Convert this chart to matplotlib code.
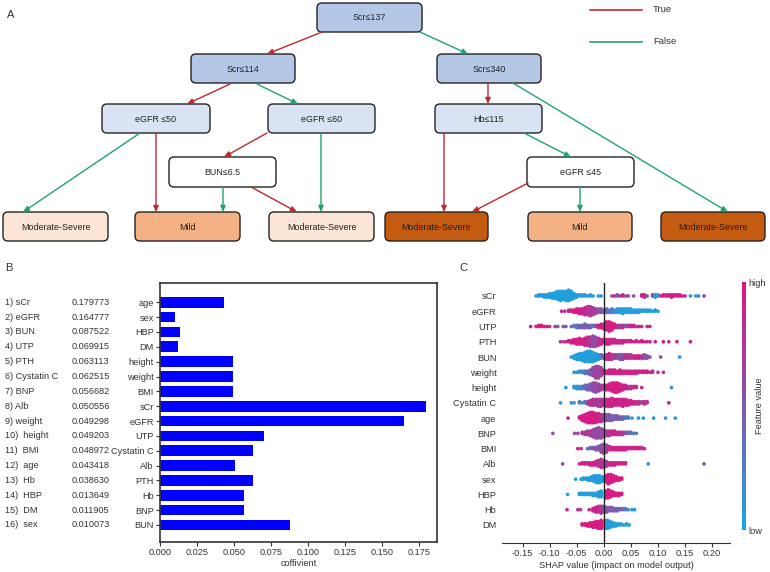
import numpy as np
import matplotlib
matplotlib.use('Agg')
import matplotlib.pyplot as plt
from matplotlib.patches import FancyBboxPatch
from matplotlib.colors import LinearSegmentedColormap
from matplotlib.cm import ScalarMappable
from matplotlib.transforms import blended_transform_factory

plt.rcParams['font.family'] = ['Liberation Sans Narrow', 'Liberation Sans', 'DejaVu Sans']

# ---- panel A: decision tree ----
split_labels = ['Scr≤137', 'Scr≤114', 'Scr≤340', 'eGFR ≤50', 'eGFR ≤60', 'Hb≤115', 'BUN≤6.5', 'eGFR ≤45']
leaf_labels = ['Moderate-Severe', 'Mild', 'Moderate-Severe', 'Moderate-Severe', 'Mild', 'Moderate-Severe']

# ---- panel B: feature importance ----
rank_names = ['sCr', 'eGFR', 'BUN', 'UTP', 'PTH', 'Cystatin C', 'BNP', 'Alb', 'weight',
              'height', 'BMI', 'age', 'Hb', 'HBP', 'DM', 'sex']
rank_values = ['0.179773', '0.164777', '0.087522', '0.069915', '0.063113', '0.062515',
               '0.056682', '0.050556', '0.049298', '0.049203', '0.048972', '0.043418',
               '0.038630', '0.013649', '0.011905', '0.010073']
bar_labels = ['age', 'sex', 'HBP', 'DM', 'height', 'weight', 'BMI', 'sCr', 'eGFR', 'UTP',
              'Cystatin C', 'Alb', 'PTH', 'Hb', 'BNP', 'BUN']
bar_values = [0.0434, 0.0101, 0.0136, 0.0119, 0.0492, 0.0493, 0.0490, 0.1798, 0.1648, 0.0699,
              0.0625, 0.0506, 0.0631, 0.0567, 0.0567, 0.0875]

# ---- panel C: SHAP beeswarm, (shap value, count in column, feature value) ----
shap_features = ['sCr', 'eGFR', 'UTP', 'PTH', 'BUN', 'weight', 'height', 'Cystatin C',
                 'age', 'BNP', 'BMI', 'Alb', 'sex', 'HBP', 'Hb', 'DM']
shap_sCr = [(-0.125, 1, .05), (-0.12, 2, .05), (-0.115, 2, .05), (-0.11, 3, .05), (-0.105, 3, .05),
            (-0.10, 4, .05), (-0.095, 5, .05), (-0.09, 6, .05), (-0.085, 8, .05), (-0.08, 9, .05),
            (-0.075, 8, .05), (-0.07, 9, .05), (-0.065, 10, .05), (-0.06, 8, .05), (-0.055, 5, .05),
            (-0.05, 3, .05), (-0.045, 2, .05), (-0.04, 2, .05), (-0.035, 2, .05), (-0.03, 1, .05),
            (-0.025, 2, .05), (-0.02, 1, .05), (-0.01, 1, .05), (-0.005, 1, .1),
            (0.015, 1, .6), (0.02, 1, .9), (0.025, 2, .6), (0.03, 1, .7), (0.035, 2, .9),
            (0.04, 1, .6), (0.045, 1, .7), (0.055, 1, .6), (0.07, 2, .9), (0.075, 3, .9),
            (0.08, 1, .6), (0.09, 2, .5), (0.095, 3, .1), (0.10, 2, .1), (0.105, 1, .9),
            (0.11, 2, .95), (0.115, 2, .9), (0.12, 2, .95), (0.125, 3, .9), (0.13, 2, .95),
            (0.135, 2, .9), (0.14, 2, .9), (0.145, 1, .95), (0.15, 1, .8), (0.16, 1, .1),
            (0.17, 1, .1), (0.175, 1, .15), (0.185, 1, .6)]
shap_eGFR = [(-0.078, 1, .8), (-0.072, 1, .8), (-0.065, 2, .85), (-0.06, 2, .9), (-0.055, 3, .95),
             (-0.05, 4, .95), (-0.045, 5, .95), (-0.04, 5, .9), (-0.035, 7, .85), (-0.03, 8, .75),
             (-0.025, 9, .75), (-0.02, 7, .7), (-0.015, 5, .7), (-0.01, 4, .6), (-0.005, 4, .5),
             (0.0, 3, .45), (0.005, 4, .4), (0.01, 3, .35), (0.015, 4, .3), (0.02, 3, .2),
             (0.025, 4, .1), (0.03, 4, .05), (0.035, 5, .05), (0.04, 4, .05), (0.045, 4, .05),
             (0.05, 4, .05), (0.055, 3, .05), (0.06, 3, .05), (0.065, 3, .05), (0.07, 2, .05),
             (0.075, 2, .05), (0.08, 2, .05), (0.085, 2, .05), (0.09, 1, .05), (0.095, 2, .05),
             (0.10, 1, .05)]
shap_UTP = [(-0.135, 1, .9), (-0.125, 1, .9), (-0.12, 2, .95), (-0.115, 2, .95), (-0.11, 1, .9),
            (-0.105, 1, .9), (-0.10, 1, .9), (-0.09, 1, .6), (-0.085, 1, .6), (-0.075, 1, .5),
            (-0.07, 1, .5), (-0.06, 1, .4), (-0.055, 2, .3), (-0.05, 3, .3), (-0.045, 3, .45),
            (-0.04, 3, .4), (-0.035, 4, .5), (-0.03, 3, .55), (-0.025, 3, .4), (-0.02, 2, .3),
            (-0.015, 2, .6), (-0.01, 3, .9), (-0.005, 4, .95), (0.0, 5, .9), (0.005, 8, .95),
            (0.01, 9, .95), (0.015, 7, .95), (0.02, 4, .9), (0.025, 3, .8), (0.03, 3, .7),
            (0.035, 3, .8), (0.04, 2, .6), (0.045, 2, .8), (0.05, 2, .9), (0.055, 2, .9),
            (0.06, 1, .9), (0.065, 1, .9), (0.07, 1, .9), (0.08, 1, .8), (0.085, 1, .9)]
shap_PTH = [(-0.08, 1, .85), (-0.075, 1, .6), (-0.07, 1, .9), (-0.065, 2, .9), (-0.06, 3, .9),
            (-0.055, 4, .95), (-0.05, 5, .95), (-0.045, 6, .9), (-0.04, 5, .95), (-0.035, 7, .9),
            (-0.03, 8, .85), (-0.025, 9, .7), (-0.02, 10, .6), (-0.015, 9, .6), (-0.01, 7, .75),
            (-0.005, 5, .85), (0.0, 4, .9), (0.005, 5, .9), (0.01, 5, .9), (0.015, 4, .85),
            (0.02, 4, .9), (0.025, 3, .9), (0.03, 3, .85), (0.035, 3, .9), (0.04, 2, .9),
            (0.045, 2, .85), (0.05, 2, .9), (0.055, 1, .9), (0.06, 2, .9), (0.065, 1, .8),
            (0.07, 2, .9), (0.075, 1, .9), (0.08, 1, .85), (0.085, 1, .9), (0.095, 1, .9),
            (0.11, 1, .9), (0.12, 1, .85), (0.135, 1, .9), (0.16, 1, .9)]
shap_BUN = [(-0.06, 1, .1), (-0.055, 3, .05), (-0.05, 5, .05), (-0.045, 6, .05), (-0.04, 7, .05),
            (-0.035, 9, .05), (-0.03, 10, .05), (-0.025, 10, .05), (-0.02, 9, .05), (-0.015, 7, .05),
            (-0.01, 5, .1), (-0.005, 4, .3), (0.0, 3, .5), (0.005, 5, .8), (0.01, 6, .9),
            (0.015, 5, .7), (0.02, 4, .8), (0.025, 4, .6), (0.03, 5, .55), (0.035, 5, .6),
            (0.04, 4, .8), (0.045, 4, .75), (0.05, 4, .7), (0.055, 3, .85), (0.06, 3, .9),
            (0.065, 3, .9), (0.07, 3, .8), (0.075, 4, .6), (0.08, 3, .5), (0.085, 1, .6),
            (0.105, 1, .6), (0.14, 1, .1)]
shap_weight = [(-0.055, 1, .1), (-0.05, 1, .1), (-0.045, 2, .1), (-0.04, 2, .2), (-0.035, 3, .3),
               (-0.03, 3, .4), (-0.025, 5, .5), (-0.02, 8, .6), (-0.015, 11, .65), (-0.01, 11, .65),
               (-0.005, 8, .7), (0.0, 4, .8), (0.005, 3, .9), (0.01, 4, .9), (0.015, 4, .9),
               (0.02, 4, .9), (0.025, 3, .9), (0.03, 4, .9), (0.035, 3, .9), (0.04, 3, .9),
               (0.045, 3, .9), (0.05, 3, .9), (0.055, 3, .9), (0.06, 3, .9), (0.065, 2, .9),
               (0.07, 2, .9), (0.075, 2, .9), (0.08, 2, .9), (0.085, 1, .9), (0.09, 2, .85),
               (0.10, 1, .8), (0.11, 1, .8)]
shap_height = [(-0.07, 1, .1), (-0.055, 2, .1), (-0.05, 3, .1), (-0.045, 3, .15), (-0.04, 3, .2),
               (-0.035, 4, .4), (-0.03, 5, .45), (-0.025, 6, .5), (-0.02, 8, .6), (-0.015, 9, .6),
               (-0.01, 7, .65), (-0.005, 5, .7), (0.0, 4, .8), (0.005, 5, .9), (0.01, 6, .9),
               (0.015, 8, .95), (0.02, 9, .95), (0.025, 9, .95), (0.03, 7, .9), (0.035, 5, .9),
               (0.04, 4, .9), (0.045, 3, .8), (0.05, 3, .7), (0.055, 2, .85), (0.06, 2, .8),
               (0.07, 1, .9), (0.125, 1, .1)]
shap_cysc = [(-0.08, 1, .1), (-0.06, 1, .1), (-0.055, 1, .15), (-0.045, 2, .2), (-0.04, 1, .2),
             (-0.035, 2, .3), (-0.03, 3, .6), (-0.025, 5, .8), (-0.02, 6, .8), (-0.015, 6, .75),
             (-0.01, 7, .7), (-0.005, 7, .75), (0.0, 6, .8), (0.005, 7, .85), (0.01, 7, .9),
             (0.015, 8, .9), (0.02, 6, .9), (0.025, 6, .9), (0.03, 6, .85), (0.035, 7, .9),
             (0.04, 6, .9), (0.045, 5, .85), (0.05, 4, .9), (0.055, 3, .9), (0.06, 3, .85),
             (0.065, 3, .8), (0.07, 2, .7), (0.075, 3, .8), (0.08, 2, .8), (0.12, 1, .9)]
shap_age = [(-0.066, 1, .9), (-0.045, 2, .95), (-0.04, 5, .95), (-0.035, 7, .95), (-0.03, 9, .95),
            (-0.025, 10, .95), (-0.02, 10, .95), (-0.015, 9, .9), (-0.01, 8, .9), (-0.005, 7, .85),
            (0.0, 6, .7), (0.005, 6, .55), (0.01, 6, .5), (0.015, 5, .5), (0.02, 4, .45),
            (0.025, 4, .5), (0.03, 3, .45), (0.035, 3, .4), (0.04, 2, .35), (0.045, 2, .3),
            (0.052, 1, .1), (0.064, 1, .1), (0.073, 1, .1), (0.092, 1, .1), (0.114, 1, .1),
            (0.132, 1, .1)]
shap_BNP = [(-0.094, 1, .6), (-0.054, 1, .6), (-0.048, 1, .7), (-0.04, 2, .7), (-0.035, 3, .8),
            (-0.03, 4, .7), (-0.025, 5, .7), (-0.02, 7, .65), (-0.015, 9, .65), (-0.01, 10, .6),
            (-0.005, 9, .6), (0.0, 7, .65), (0.005, 5, .75), (0.01, 5, .8), (0.015, 4, .85),
            (0.02, 4, .85), (0.025, 3, .85), (0.03, 3, .8), (0.035, 3, .7), (0.04, 2, .6),
            (0.045, 2, .4), (0.05, 2, .35), (0.055, 1, .3), (0.06, 1, .3)]
shap_BMI = [(-0.048, 1, .9), (-0.042, 1, .8), (-0.03, 1, .3), (-0.025, 2, .4), (-0.02, 2, .5),
            (-0.015, 3, .5), (-0.01, 4, .55), (-0.005, 7, .6), (0.0, 9, .65), (0.005, 7, .65),
            (0.01, 4, .8), (0.015, 3, .9), (0.02, 3, .9), (0.025, 3, .9), (0.03, 3, .9),
            (0.035, 3, .9), (0.04, 3, .9), (0.045, 2, .9), (0.05, 2, .9), (0.055, 2, .9),
            (0.06, 2, .9), (0.065, 2, .9), (0.07, 2, .85), (0.075, 1, .85)]
shap_Alb = [(-0.076, 1, .6), (-0.045, 1, .9), (-0.04, 2, .9), (-0.035, 2, .9), (-0.03, 2, .9),
            (-0.025, 3, .9), (-0.02, 3, .9), (-0.015, 4, .9), (-0.01, 6, .8), (-0.005, 8, .8),
            (0.0, 7, .75), (0.005, 5, .7), (0.01, 3, .85), (0.015, 3, .9), (0.02, 3, .9),
            (0.025, 2, .9), (0.03, 2, .9), (0.035, 2, .9), (0.04, 2, .9), (0.082, 1, .15),
            (0.185, 1, .6)]
shap_sex = [(-0.052, 1, .05), (-0.042, 1, .05), (-0.038, 2, .05), (-0.033, 2, .05), (-0.028, 3, .05),
            (-0.023, 4, .05), (-0.018, 6, .05), (-0.013, 7, .05), (-0.008, 7, .05), (-0.003, 5, .05),
            (0.003, 6, .95), (0.008, 9, .95), (0.013, 8, .95), (0.018, 6, .95), (0.023, 4, .95),
            (0.028, 3, .95), (0.033, 2, .95)]
shap_HBP = [(-0.067, 1, .05), (-0.045, 2, .05), (-0.04, 2, .05), (-0.035, 2, .05), (-0.03, 2, .05),
            (-0.025, 2, .05), (-0.02, 3, .05), (-0.015, 3, .05), (-0.01, 5, .05), (-0.005, 6, .05),
            (0.003, 7, .95), (0.008, 8, .95), (0.013, 6, .95), (0.018, 4, .95), (0.023, 3, .95),
            (0.028, 3, .95), (0.033, 2, .95)]
shap_Hb = [(-0.068, 1, .9), (-0.048, 1, .7), (-0.043, 1, .8), (-0.027, 1, .9), (-0.02, 3, .9),
           (-0.015, 5, .9), (-0.01, 6, .85), (-0.005, 7, .75), (0.0, 6, .6), (0.005, 5, .55),
           (0.01, 4, .5), (0.015, 4, .5), (0.02, 3, .45), (0.025, 3, .45), (0.03, 2, .5),
           (0.035, 2, .4), (0.04, 2, .3), (0.045, 1, .2), (0.052, 1, .1), (0.057, 1, .1)]
shap_DM = [(-0.04, 2, .95), (-0.035, 2, .95), (-0.03, 3, .95), (-0.025, 4, .95), (-0.02, 5, .95),
           (-0.015, 6, .95), (-0.01, 7, .95), (-0.005, 8, .95), (0.002, 8, .05), (0.007, 8, .05),
           (0.012, 6, .05), (0.017, 4, .05), (0.022, 3, .05), (0.027, 2, .05), (0.032, 2, .05),
           (0.037, 1, .05), (0.042, 2, .05), (0.047, 1, .05)]
shap_rows = [shap_sCr, shap_eGFR, shap_UTP, shap_PTH, shap_BUN, shap_weight, shap_height,
             shap_cysc, shap_age, shap_BNP, shap_BMI, shap_Alb, shap_sex, shap_HBP, shap_Hb, shap_DM]

RED = '#C0282E'
GREEN = '#22A36A'
TXT = '#333333'
cmap = LinearSegmentedColormap.from_list('shap', ['#1AA5E1', '#7D5AAE', '#E2137F'])

fig = plt.figure(figsize=(7.7, 5.72), dpi=100)

# ---------------- A ----------------
axA = fig.add_axes([0, 1 - 250 / 572, 1, 250 / 572])
axA.set_xlim(0, 770)
axA.set_ylim(250, 0)
axA.axis('off')

# box layout in pixel units: x0, y0, x1, y1, fill
split_boxes = [(317, 3, 422, 32, '#B4C7E7'), (191, 54, 295, 83, '#B4C7E7'),
               (437, 54, 541, 83, '#B4C7E7'), (102, 104, 210, 133, '#DAE3F3'),
               (268, 104, 375, 133, '#DAE3F3'), (435, 104, 542, 133, '#DAE3F3'),
               (169, 157, 276, 187, 'white'), (527, 157, 634, 187, 'white')]
leaf_boxes = [(3, 212, 108, 241, '#FBE5D6'), (135, 212, 240, 241, '#F4B183'),
              (269, 212, 374, 241, '#FBE5D6'), (385, 212, 488, 241, '#C55A11'),
              (528, 212, 632, 241, '#F4B183'), (661, 212, 765, 241, '#C55A11')]
for (x0, y0, x1, y1, fc), lab in zip(split_boxes + leaf_boxes, split_labels + leaf_labels):
    axA.add_patch(FancyBboxPatch((x0, y0), x1 - x0, y1 - y0,
                                 boxstyle='round,pad=0,rounding_size=5',
                                 fc=fc, ec='#222222', lw=1))
    axA.text((x0 + x1) / 2, (y0 + y1) / 2 + 0.5, lab, ha='center', va='center',
             fontsize=6.4, color='#222222')

# edges: start, end, branch is True
edges = [((322, 32), (267, 54), True), ((420, 32), (468, 54), False),
         ((230, 84), (187, 104), True), ((257, 84), (298, 104), False),
         ((140, 133), (23, 212), False), ((156, 133), (156, 212), True),
         ((267, 133), (224, 157), True), ((321, 133), (321, 212), False),
         ((223, 187), (223, 212), False), ((251, 187), (297, 212), True),
         ((488, 83), (488, 104), True), ((513, 83), (728, 212), False),
         ((444, 133), (444, 212), True), ((524, 133), (571, 157), False),
         ((528, 183), (472, 212), True), ((580, 187), (580, 212), False)]
for start, end, is_true in edges:
    axA.annotate('', xy=end, xytext=start,
                 arrowprops=dict(arrowstyle='-|>,head_length=0.5,head_width=0.22',
                                 color=RED if is_true else GREEN, lw=1,
                                 shrinkA=0, shrinkB=0, mutation_scale=7))

axA.plot([590, 642], [10, 10], color=RED, lw=1.2)
axA.plot([590, 642], [42, 42], color=GREEN, lw=1.2)
axA.text(653, 10, 'True', va='center', fontsize=6.8, color=TXT)
axA.text(653, 42, 'False', va='center', fontsize=6.8, color=TXT)
axA.text(7, 15, 'A', va='center', fontsize=8, color=TXT)

# ---------------- B ----------------
axB = fig.add_axes([160 / 770, 30 / 572, 277 / 770, 259 / 572])
yy = np.arange(len(bar_labels))
axB.barh(yy, bar_values, height=0.72, color='#0000FF')
axB.set_ylim(len(bar_labels) + 0.15, -1.3)
axB.set_xlim(0, 0.187)
axB.set_yticks(yy)
axB.set_yticklabels(bar_labels, fontsize=6.6)
xt = np.arange(0, 0.18, 0.025)
axB.set_xticks(xt)
axB.set_xticklabels([f'{v:.3f}' for v in xt], fontsize=6.6)
axB.tick_params(length=3, width=0.8, pad=1.5, colors=TXT)
for s in axB.spines.values():
    s.set_linewidth(1.2)
    s.set_color(TXT)
axB.set_xlabel('coffivient', fontsize=6.6, labelpad=1, color=TXT)

trans = blended_transform_factory(fig.transFigure, axB.transData)
for i, (nm, val) in enumerate(zip(rank_names, rank_values)):
    sep = ')  ' if i >= 9 else ') '
    axB.text(5 / 770, i, f'{i + 1}{sep}{nm}', transform=trans, va='center', fontsize=6.6,
             color=TXT)
    axB.text(72 / 770, i, val, transform=trans, va='center', fontsize=6.6, color=TXT)
fig.text(5 / 770, 1 - 268 / 572, 'B', va='center', fontsize=8, color=TXT)

# ---------------- C ----------------
axC = fig.add_axes([502 / 770, 29 / 572, 228 / 770, 260 / 572])
step = 0.075
nrow = len(shap_features)
for r, pts in enumerate(shap_rows):
    ypos = nrow - 1 - r
    xs, ys, cs = [], [], []
    for x, n, c in pts:
        for k in range(n):
            off = ((k + 1) // 2) * (1 if k % 2 else -1) * step
            xs.append(x)
            ys.append(ypos + off)
            cs.append(c)
    axC.scatter(xs, ys, c=cs, cmap=cmap, vmin=0, vmax=1, s=7, linewidths=0, zorder=2)
axC.axvline(0, color='#222222', lw=1, zorder=3)
axC.set_xlim(-0.188, 0.233)
axC.set_ylim(-1.18, nrow - 1 + 0.85)
axC.set_yticks(np.arange(nrow))
axC.set_yticklabels(shap_features[::-1], fontsize=6.7, color=TXT)
axC.tick_params(axis='y', length=0, pad=4)
xt2 = np.arange(-0.15, 0.201, 0.05)
axC.set_xticks(xt2)
axC.set_xticklabels([f'{v:.2f}' for v in xt2], fontsize=6.7, color=TXT)
axC.tick_params(axis='x', length=3, width=0.8, pad=1.5, colors=TXT)
for k in ['left', 'top', 'right']:
    axC.spines[k].set_visible(False)
axC.spines['bottom'].set_color(TXT)
axC.set_xlabel('SHAP value (impact on model output)', fontsize=6.7, labelpad=2, color=TXT)
fig.text(459 / 770, 1 - 268 / 572, 'C', va='center', fontsize=8, color=TXT)

cax = fig.add_axes([742 / 770, 42 / 572, 4 / 770, 248 / 572])
cb = fig.colorbar(ScalarMappable(cmap=cmap), cax=cax, ticks=[0, 1])
cb.outline.set_visible(False)
cb.set_ticklabels(['low', 'high'])
cax.tick_params(length=0, labelsize=6.7, pad=2, colors=TXT)
cb.set_label('Feature value', fontsize=6.7, labelpad=-8, color=TXT)

fig.savefig('out.png', dpi=100)
